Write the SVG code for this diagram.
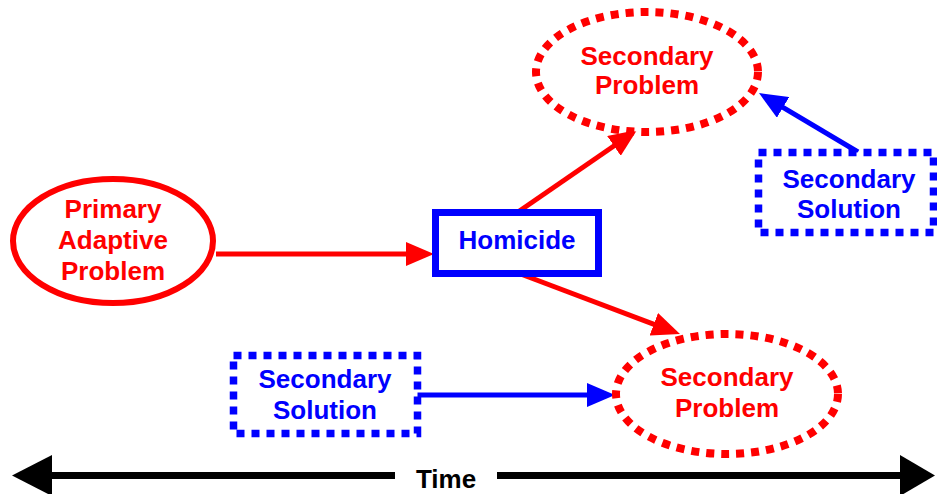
<svg xmlns="http://www.w3.org/2000/svg" width="937" height="494" viewBox="0 0 937 494">
<style>
text{font-family:"Liberation Sans",Arial,sans-serif;font-weight:bold;font-size:26px;text-anchor:middle}
.r{fill:#ff0000}.b{fill:#0000ff}
.dr{fill:#fff;stroke:#ff0000;stroke-width:8;stroke-dasharray:8 7}
.db{fill:#fff;stroke:#0000ff;stroke-width:7.5;stroke-dasharray:8 7}
.lr{stroke:#ff0000;stroke-width:5;fill:none}
.lb{stroke:#0000ff;stroke-width:5;fill:none}
</style>
<defs>
<marker id="ar" viewBox="0 0 28 24" refX="6" refY="12" markerWidth="28" markerHeight="24" markerUnits="userSpaceOnUse" orient="auto"><path d="M0,0 L28,12 L0,24 z" fill="#ff0000"/></marker>
<marker id="ab" viewBox="0 0 28 24" refX="6" refY="12" markerWidth="28" markerHeight="24" markerUnits="userSpaceOnUse" orient="auto"><path d="M0,0 L28,12 L0,24 z" fill="#0000ff"/></marker>
</defs>
<g id="connectors">
<line class="lr" x1="216" y1="254" x2="412" y2="254" marker-end="url(#ar)"/>
<line class="lr" x1="518" y1="212" x2="618.9" y2="142.5" marker-end="url(#ar)"/>
<line class="lr" x1="518" y1="273" x2="659.4" y2="326.3" marker-end="url(#ar)"/>
<line class="lb" x1="858" y1="152" x2="777.9" y2="104.3" marker-end="url(#ab)"/>
<line class="lb" x1="417" y1="395" x2="593" y2="395" marker-end="url(#ab)"/>
</g>
<g id="primary">
<ellipse cx="113" cy="241" rx="100" ry="62" fill="#fff" stroke="#ff0000" stroke-width="6"/>
<text class="r" x="113" y="218">Primary</text>
<text class="r" x="113" y="249">Adaptive</text>
<text class="r" x="113" y="280">Problem</text>
</g>
<g id="homicide">
<rect x="435.5" y="212.5" width="163" height="61" fill="#fff" stroke="#0000ff" stroke-width="7"/>
<text class="b" x="517" y="249">Homicide</text>
</g>
<g id="problem-top">
<ellipse class="dr" cx="647" cy="72" rx="111" ry="60"/>
<text class="r" x="647" y="65">Secondary</text>
<text class="r" x="647" y="94">Problem</text>
</g>
<g id="solution-top">
<rect class="db" x="758.5" y="152.5" width="175" height="80"/>
<text class="b" x="849" y="188">Secondary</text>
<text class="b" x="849" y="218">Solution</text>
</g>
<g id="solution-bottom">
<rect class="db" x="233.5" y="355.5" width="184" height="78"/>
<text class="b" x="325" y="388">Secondary</text>
<text class="b" x="325" y="419">Solution</text>
</g>
<g id="problem-bottom">
<ellipse class="dr" cx="727" cy="394" rx="111" ry="60"/>
<text class="r" x="727" y="386">Secondary</text>
<text class="r" x="727" y="417">Problem</text>
</g>
<g id="time">
<line x1="50" y1="475.5" x2="395" y2="475.5" stroke="#000" stroke-width="7"/>
<line x1="497" y1="475.5" x2="902" y2="475.5" stroke="#000" stroke-width="7"/>
<polygon points="12,475.5 52,455 52,496" fill="#000"/>
<polygon points="935,475.5 900,455 900,496" fill="#000"/>
<text x="446" y="488" style="font-size:26px">Time</text>
</g>
</svg>
